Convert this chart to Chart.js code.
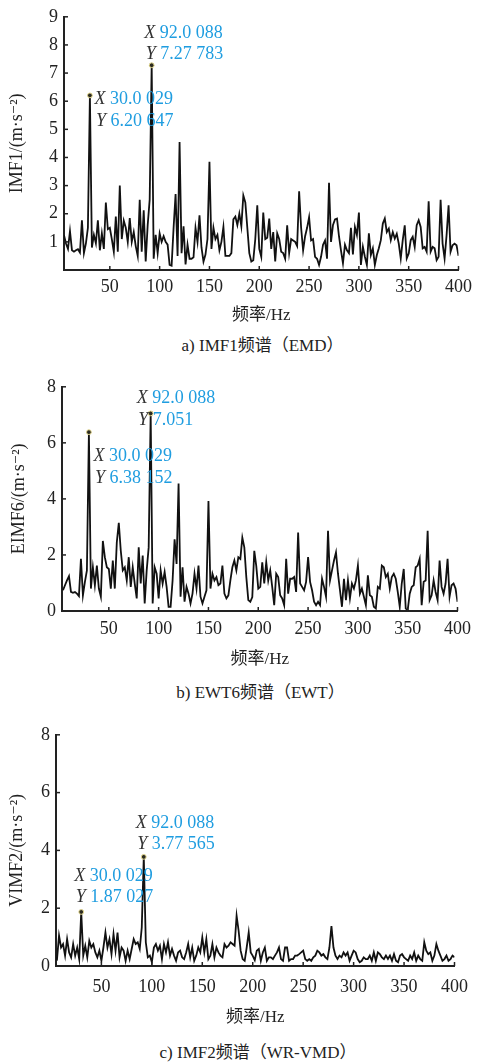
<!DOCTYPE html>
<html>
<head>
<meta charset="utf-8">
<title>频谱</title>
<script src="https://cdn.jsdelivr.net/npm/chart.js@4.4.1/dist/chart.umd.min.js"></script>
<style>
  body { margin: 0; background: #fff; width: 478px; height: 1063px; position: relative; overflow: hidden; }
  canvas { position: absolute; left: 0; }
  .cap { position: absolute; font: 17px 'Liberation Serif', 'Noto Sans CJK SC', serif; color: #222; text-align: center; line-height: 20px; white-space: nowrap; }
</style>
</head>
<body>
<canvas id="c1" width="478" height="326" style="top:0px"></canvas>
<div class="cap" style="left:64px;width:397px;top:336px">a) IMF1频谱（EMD）</div>
<canvas id="c2" width="478" height="300" style="top:370px"></canvas>
<div class="cap" style="left:62px;width:397px;top:683px">b) EWT6频谱（EWT）</div>
<canvas id="c3" width="478" height="310" style="top:718px"></canvas>
<div class="cap" style="left:56px;width:404px;top:1043px">c) IMF2频谱（WR-VMD）</div>

<script>
// spectrum bins: 2.00019 Hz apart, first bin at 4 Hz
const binHz = 2.00019;

// IMF1 (EMD) amplitude per bin
const imf1 = [
  1.24, 0.94, 0.75, 1.38, 0.70, 0.65, 0.70, 0.74, 0.62, 1.77,
  0.60, 0.95, 1.50, 6.20647, 0.80, 1.25, 0.95, 1.77, 0.70, 1.30,
  0.75, 2.40, 1.45, 1.50, 1.10, 0.65, 1.90, 0.65, 3.00, 1.10,
  1.75, 1.50, 1.00, 1.85, 1.00, 1.35, 0.85, 0.50, 2.50, 0.65,
  2.12, 0.30, 1.60, 2.50, 7.27783, 0.40, 1.25, 0.60, 1.30, 1.00,
  1.20, 1.00, 0.90, 0.18, 0.15, 1.50, 2.70, 0.50, 4.55, 0.60,
  1.55, 0.20, 0.90, 0.40, 0.40, 0.45, 1.50, 1.00, 1.94, 0.80,
  0.30, 0.55, 1.10, 3.85, 0.75, 1.50, 1.10, 1.25, 0.70, 1.00,
  1.53, 0.50, 0.50, 0.50, 0.60, 1.80, 1.90, 1.60, 2.00, 1.55,
  2.65, 2.40, 1.50, 0.60, 0.30, 0.35, 1.10, 2.30, 0.75, 0.47,
  2.04, 1.10, 1.15, 1.83, 0.75, 1.35, 0.30, 1.30, 1.10, 0.65,
  0.60, 0.40, 1.59, 0.60, 1.10, 1.05, 1.00, 0.85, 2.80, 1.50,
  0.70, 1.20, 1.50, 1.88, 1.05, 1.10, 0.47, 0.40, 0.18, 0.47,
  0.90, 1.05, 0.40, 3.10, 1.00, 1.60, 1.80, 1.83, 1.20, 0.70,
  0.24, 0.90, 0.70, 0.60, 1.50, 0.55, 1.53, 1.24, 2.04, 0.18,
  0.82, 0.47, 0.18, 1.30, 0.53, 0.77, 0.18, 0.53, 0.77, 1.06,
  1.65, 1.83, 1.35, 1.47, 1.06, 1.35, 1.12, 1.29, 0.94, 0.41,
  1.06, 1.59, 0.41, 0.59, 1.06, 1.18, 0.82, 1.59, 1.77, 1.53,
  0.77, 0.82, 0.65, 2.44, 0.65, 0.82, 0.77, 0.35, 0.47, 2.50,
  0.94, 0.41, 1.24, 2.30, 0.65, 0.88, 0.94, 0.88, 0.50
];

// EIMF6 (EWT) amplitude per bin
const eimf6 = [
  0.74, 0.92, 1.09, 1.24, 0.68, 0.65, 0.68, 0.62, 0.53, 1.86,
  0.56, 1.04, 1.45, 6.38152, 0.80, 1.56, 0.92, 1.62, 0.80, 0.51,
  2.50, 1.92, 1.56, 1.50, 0.80, 1.80, 0.80, 2.45, 3.15, 2.15,
  1.45, 1.56, 1.09, 1.92, 0.86, 1.56, 0.98, 0.45, 2.27, 0.98,
  1.98, 0.27, 1.45, 2.27, 7.051, 0.27, 1.56, 1.33, 0.45, 1.45,
  0.98, 1.39, 0.86, 0.15, 0.15, 1.09, 2.56, 1.68, 4.55, 0.51,
  1.56, 0.33, 0.86, 0.62, 0.27, 0.62, 1.33, 0.80, 1.62, 0.51,
  0.27, 0.51, 0.74, 3.92, 0.80, 1.33, 1.09, 1.21, 0.92, 0.98,
  1.62, 0.62, 0.45, 0.56, 1.09, 1.56, 1.80, 1.45, 1.92, 1.86,
  2.62, 2.27, 1.21, 0.39, 0.33, 0.50, 2.15, 1.60, 0.80, 0.86,
  1.74, 0.98, 1.74, 1.09, 1.45, 0.86, 0.21, 1.33, 1.21, 0.56,
  0.45, 0.21, 1.86, 0.62, 1.15, 1.15, 1.21, 0.68, 2.80, 0.98,
  0.86, 0.74, 1.04, 1.92, 1.04, 0.74, 0.33, 0.21, 0.33, 0.21,
  1.15, 0.86, 0.51, 2.86, 1.09, 1.45, 1.80, 2.09, 1.33, 0.74,
  0.15, 1.15, 0.39, 1.09, 0.45, 0.98, 0.80, 1.09, 1.62, 0.62,
  0.80, 0.51, 0.21, 1.27, 0.56, 0.51, 0.15, 0.09, 0.86, 0.80,
  1.62, 1.56, 1.21, 1.33, 0.80, 1.21, 1.33, 1.15, 0.68, 0.15,
  0.98, 1.50, 0.09, 0.04, 0.62, 0.86, 0.92, 1.56, 1.62, 1.86,
  0.21, 1.04, 1.09, 2.86, 0.39, 0.56, 1.09, 0.68, 0.39, 1.80,
  0.86, 0.62, 0.98, 1.86, 0.51, 0.92, 0.98, 0.80, 0.33
];

// IMF2 (WR-VMD) amplitude per bin
const vimf2 = [
  0.30, 0.24, 1.05, 0.64, 0.76, 0.36, 0.93, 0.47, 0.30, 0.76,
  0.36, 0.64, 0.24, 1.87027, 0.36, 0.70, 0.30, 0.87, 0.64, 0.76,
  0.47, 0.30, 0.53, 0.18, 0.64, 1.16, 0.64, 0.93, 0.41, 1.10,
  0.53, 1.16, 0.30, 0.64, 0.53, 0.18, 0.53, 0.24, 0.59, 0.93,
  0.76, 0.82, 0.59, 1.33, 3.77565, 0.82, 0.30, 0.36, 0.13, 0.64,
  0.76, 0.53, 0.70, 0.24, 0.76, 0.47, 0.82, 0.36, 0.59, 0.36,
  0.18, 0.47, 0.53, 0.30, 0.24, 0.47, 0.76, 0.30, 0.64, 0.18,
  0.36, 0.64, 0.47, 0.99, 0.47, 0.93, 0.24, 0.36, 0.76, 0.30,
  0.64, 0.47, 0.36, 0.30, 0.76, 0.64, 0.70, 0.82, 0.76, 0.70,
  1.74, 1.22, 0.53, 0.24, 0.18, 0.64, 1.16, 0.47, 0.35, 0.20,
  0.53, 0.59, 0.18, 0.47, 0.64, 0.18, 0.30, 0.30, 0.24, 0.36,
  0.47, 0.64, 0.24, 0.18, 0.64, 0.64, 0.18, 0.24, 0.24, 0.36,
  0.36, 0.41, 0.47, 0.53, 0.24, 0.18, 0.24, 0.18, 0.30, 0.36,
  0.53, 0.47, 0.36, 0.41, 0.30, 0.24, 0.64, 1.38, 0.64, 0.36,
  0.24, 0.36, 0.30, 0.47, 0.36, 0.47, 0.18, 0.36, 0.53, 0.47,
  0.24, 0.13, 0.18, 0.30, 0.24, 0.24, 0.36, 0.18, 0.47, 0.18,
  0.47, 0.41, 0.30, 0.24, 0.36, 0.24, 0.36, 0.18, 0.41, 0.18,
  0.13, 0.36, 0.41, 0.30, 0.24, 0.18, 0.36, 0.24, 0.47, 0.18,
  0.36, 0.24, 0.18, 0.82, 0.53, 0.41, 0.47, 0.18, 0.36, 0.76,
  0.53, 0.36, 0.18, 0.24, 0.36, 0.18, 0.24, 0.36, 0.30
];

// axis ticks
const xTicks = [50, 100, 150, 200, 250, 300, 350, 400];
const yTicks1 = [1, 2, 3, 4, 5, 6, 7, 8, 9];
const yTicks23 = [0, 2, 4, 6, 8];

// data tips (frequency, amplitude, printed text)
const tips1 = [
  { f: 30.0029, v: 6.20647, xText: '30.0 029', yText: '6.20 647' },
  { f: 92.0088, v: 7.27783, xText: '92.0 088', yText: '7.27 783' }
];
const tips2 = [
  { f: 30.0029, v: 6.38152, xText: '30.0 029', yText: '6.38 152' },
  { f: 92.0088, v: 7.051, xText: '92.0 088', yText: '7.051' }
];
const tips3 = [
  { f: 30.0029, v: 1.87027, xText: '30.0 029', yText: '1.87 027' },
  { f: 92.0088, v: 3.77565, xText: '92.0 088', yText: '3.77 565' }
];

const serif = "'Liberation Serif', 'DejaVu Serif', 'Noto Sans CJK SC', serif";
const ink = '#222';
const tipBlue = '#1f9de0';

// inward tick marks on both axes plus the data tip markers and labels
const tipPlugin = {
  id: 'dataTips',
  afterDraw(chart, args, opts) {
    const ctx = chart.ctx;
    const xs = chart.scales.x, ys = chart.scales.y;
    ctx.save();
    ctx.strokeStyle = ink;
    ctx.lineWidth = 1.5;
    xs.ticks.forEach(t => {
      const px = xs.getPixelForValue(t.value);
      ctx.beginPath();
      ctx.moveTo(px, ys.bottom);
      ctx.lineTo(px, ys.bottom - 4);
      ctx.stroke();
    });
    ys.ticks.forEach(t => {
      const py = ys.getPixelForValue(t.value);
      ctx.beginPath();
      ctx.moveTo(xs.left, py);
      ctx.lineTo(xs.left + 4, py);
      ctx.stroke();
    });

    opts.tips.forEach((tip, i) => {
      const px = xs.getPixelForValue(tip.f);
      const py = ys.getPixelForValue(tip.v);
      const off = opts.offsets[i];

      ctx.beginPath();
      ctx.arc(px, py, 2.4, 0, Math.PI * 2);
      ctx.fillStyle = '#2b2b22';
      ctx.fill();
      ctx.lineWidth = 1;
      ctx.strokeStyle = '#e3d78f';
      ctx.stroke();

      ctx.textBaseline = 'middle';
      ctx.textAlign = 'left';
      const rows = [['X', tip.xText, 0], ['Y', tip.yText, off.gap]];
      rows.forEach(([letter, text, dy]) => {
        const x0 = px + off.dx + (letter === 'Y' ? 1.5 : 0);
        const y0 = py + off.dy + dy;
        ctx.font = 'italic 18px ' + serif;
        ctx.fillStyle = '#333';
        ctx.fillText(letter, x0, y0);
        const w = ctx.measureText(letter + ' ').width;
        ctx.font = '18px ' + serif;
        ctx.fillStyle = tipBlue;
        ctx.fillText(text, x0 + w, y0);
      });
    });
    ctx.restore();
  }
};

function spectrumChart(id, values, cfg) {
  const points = values.map((v, i) => ({ x: (i + 2) * binHz, y: v }));
  const canvas = document.getElementById(id);
  return new Chart(canvas.getContext('2d'), {
    type: 'line',
    data: {
      datasets: [{
        data: points,
        borderColor: '#111',
        borderWidth: 1.8,
        pointRadius: 0,
        tension: 0,
        fill: false
      }]
    },
    options: {
      responsive: false,
      animation: false,
      devicePixelRatio: 1,
      layout: { padding: { top: cfg.top, right: 478 - cfg.right, left: 0, bottom: 0 } },
      plugins: {
        legend: { display: false },
        tooltip: { enabled: false },
        dataTips: { tips: cfg.tips, offsets: cfg.offsets }
      },
      scales: {
        x: {
          type: 'linear',
          min: cfg.xMin,
          max: 400,
          afterBuildTicks: s => { s.ticks = xTicks.map(v => ({ value: v })); },
          afterFit: s => { s.height = canvas.height - cfg.bottom; },
          grid: { display: false, drawTicks: false },
          border: { color: ink, width: 2 },
          ticks: { color: ink, font: { family: serif, size: 18 }, padding: cfg.xTickPad, maxRotation: 0 },
          title: { display: true, text: '频率/Hz', color: ink, font: { family: serif, size: 17 }, padding: { top: 0, bottom: 0 } }
        },
        y: {
          min: 0,
          max: cfg.yMax,
          afterBuildTicks: s => { s.ticks = cfg.yTicks.map(v => ({ value: v })); },
          afterFit: s => { s.width = cfg.left; },
          grid: { display: false, drawTicks: false },
          border: { color: ink, width: 2 },
          ticks: { color: ink, font: { family: serif, size: 18 }, padding: 6 },
          title: { display: true, text: cfg.yTitle, color: ink, font: { family: serif, size: 18 }, padding: { top: cfg.yTitlePad, bottom: 0 } }
        }
      }
    },
    plugins: [tipPlugin]
  });
}

spectrumChart('c1', imf1, {
  left: 64, right: 461, top: 15, bottom: 270, xMin: 4, yMax: 9,
  yTicks: yTicks1, yTitle: 'IMF1/(m·s⁻²)', yTitlePad: 6, xTickPad: 6,
  tips: tips1,
  offsets: [{ dx: 4.5, dy: 4, gap: 22 }, { dx: -7.5, dy: -32, gap: 21 }]
});

spectrumChart('c2', eimf6, {
  left: 62, right: 459, top: 15, bottom: 241, xMin: 3, yMax: 8,
  yTicks: yTicks23, yTitle: 'EIMF6/(m·s⁻²)', yTitlePad: 8, xTickPad: 7,
  tips: tips2,
  offsets: [{ dx: 4.5, dy: 24, gap: 22 }, { dx: -14, dy: -15, gap: 22 }]
});

spectrumChart('c3', vimf2, {
  left: 56, right: 460, top: 16, bottom: 248, xMin: 5, yMax: 8,
  yTicks: yTicks23, yTitle: 'VIMF2/(m·s⁻²)', yTitlePad: 6, xTickPad: 10,
  tips: tips3,
  offsets: [{ dx: -7, dy: -36, gap: 21.5 }, { dx: -8, dy: -34, gap: 21.5 }]
});
</script>
</body>
</html>
